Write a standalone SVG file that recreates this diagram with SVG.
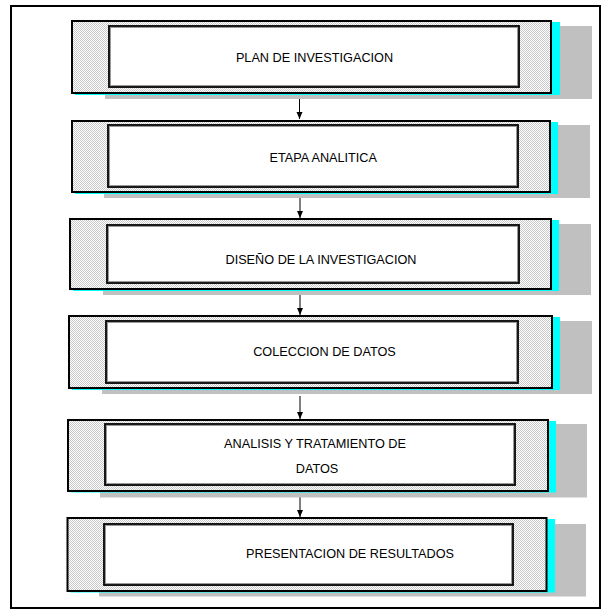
<svg xmlns="http://www.w3.org/2000/svg" width="616" height="616" viewBox="0 0 616 616">
<defs>
<pattern id="hatch" width="2" height="2" patternUnits="userSpaceOnUse">
<rect width="2" height="2" fill="#ffffff"/>
<rect x="0" y="0" width="1" height="1" fill="#c8c8c8"/>
<rect x="1" y="1" width="1" height="1" fill="#c8c8c8"/>
</pattern>
<marker id="arr" markerWidth="8" markerHeight="8" refX="7" refY="4" orient="auto" markerUnits="userSpaceOnUse">
<path d="M0,1 L7,4 L0,7 z" fill="#000"/>
</marker>
<style>
.gray{fill:#c0c0c0}
.cyan{fill:#00ffff}
.outer{fill:url(#hatch);stroke:#000;stroke-width:2}
.inner{fill:#fff;stroke:#000;stroke-width:1.8}
.inner2{fill:none;stroke:#999;stroke-width:1}
.lbl{font-family:"Liberation Sans",Arial,sans-serif;font-size:12.7px;fill:#000;text-anchor:middle}
.conn{stroke:#000;stroke-width:1;fill:none;marker-end:url(#arr)}
</style>
</defs>
<rect x="11" y="6" width="589" height="602" fill="#fff" stroke="#000" stroke-width="2"/>
<g id="connectors">
<line class="conn" x1="299.5" y1="96" x2="299.5" y2="119"/>
<line class="conn" x1="300" y1="194" x2="300" y2="218"/>
<line class="conn" x1="300" y1="291" x2="300" y2="315"/>
<line class="conn" x1="300" y1="396" x2="300" y2="419"/>
<line class="conn" x1="300" y1="494" x2="300" y2="517"/>
</g>
<g id="n1">
<rect class="gray" x="105" y="26" width="487" height="73"/>
<rect class="cyan" x="75" y="22" width="485" height="73"/>
<rect class="outer" x="72" y="21" width="479" height="72"/>
<rect class="inner" x="109" y="26" width="410" height="61"/>
<rect class="inner2" x="110.5" y="27.5" width="407" height="58"/>
<text class="lbl" x="314.5" y="61.5">PLAN DE INVESTIGACION</text>
</g>
<g id="n2">
<rect class="gray" x="104" y="125" width="486" height="73"/>
<rect class="cyan" x="75" y="122" width="483" height="72"/>
<rect class="outer" x="72" y="121" width="478" height="71"/>
<rect class="inner" x="108" y="125" width="410" height="62"/>
<rect class="inner2" x="109.5" y="126.5" width="407" height="59"/>
<text class="lbl" x="323.3" y="161.7">ETAPA ANALITICA</text>
</g>
<g id="n3">
<rect class="gray" x="103" y="224" width="488" height="71"/>
<rect class="cyan" x="73" y="220" width="486" height="71"/>
<rect class="outer" x="70" y="219" width="481" height="70"/>
<rect class="inner" x="107" y="225" width="412" height="58"/>
<rect class="inner2" x="108.5" y="226.5" width="409" height="55"/>
<text class="lbl" x="321" y="264">DISEÑO DE LA INVESTIGACION</text>
</g>
<g id="n4">
<rect class="gray" x="102" y="321" width="490" height="73"/>
<rect class="cyan" x="72" y="317" width="488" height="73"/>
<rect class="outer" x="69" y="316" width="483" height="72"/>
<rect class="inner" x="106" y="321" width="412" height="62"/>
<rect class="inner2" x="107.5" y="322.5" width="409" height="59"/>
<text class="lbl" x="324.5" y="356">COLECCION DE DATOS</text>
</g>
<g id="n5">
<rect class="gray" x="100" y="424" width="487" height="73.5"/>
<rect class="cyan" x="71" y="421" width="485" height="71.5"/>
<rect class="outer" x="68" y="420" width="480" height="71"/>
<rect class="inner" x="105" y="424" width="410" height="61"/>
<rect class="inner2" x="106.5" y="425.5" width="407" height="58"/>
<text class="lbl" x="315" y="447.7">ANALISIS Y TRATAMIENTO DE</text>
<text class="lbl" x="317" y="473.3">DATOS</text>
</g>
<g id="n6">
<rect class="gray" x="99" y="524" width="487" height="72.5"/>
<rect class="cyan" x="70.5" y="519" width="484.5" height="73.5"/>
<rect class="outer" x="67.5" y="518" width="479" height="73"/>
<rect class="inner" x="104" y="524" width="409" height="61"/>
<rect class="inner2" x="105.5" y="525.5" width="406" height="58"/>
<text class="lbl" x="350" y="558">PRESENTACION DE RESULTADOS</text>
</g>
</svg>
